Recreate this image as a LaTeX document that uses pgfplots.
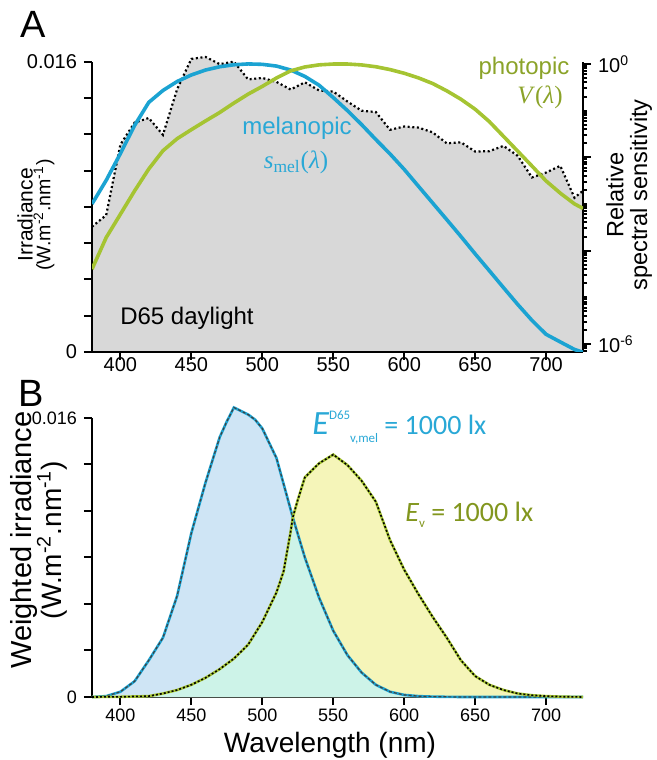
\documentclass[border=0pt]{standalone}
\usepackage{fontspec}
\setmainfont{Liberation Sans}
\newfontfamily\seriffont{Liberation Serif}
\newfontfamily\carlito{Carlito}
\usepackage{pgfplots}
\pgfplotsset{compat=1.18}
\usepackage{pgfplotstable}

\definecolor{dgrey}{RGB}{216,216,216}
\definecolor{melblue}{RGB}{27,163,210}
\definecolor{photgreen}{RGB}{165,196,50}
\definecolor{meltext}{RGB}{41,168,214}
\definecolor{phottext}{RGB}{139,163,41}
\definecolor{evtext}{RGB}{130,150,30}
\definecolor{bluefill}{RGB}{207,229,245}
\definecolor{yelfill}{RGB}{245,245,185}
\definecolor{mintfill}{RGB}{205,243,232}

% D65 spectral irradiance (panel A, left axis)
\pgfplotstableread{
nm irr
380 0.00691
390 0.00755
400 0.01144
410 0.01265
420 0.01291
430 0.01198
440 0.01450
450 0.01617
460 0.01628
470 0.01588
480 0.01602
490 0.01504
500 0.01512
510 0.01490
520 0.01448
530 0.01488
540 0.01443
550 0.01437
560 0.01382
570 0.01331
580 0.01324
590 0.01226
600 0.01244
610 0.01238
620 0.01212
630 0.01151
640 0.01157
650 0.01106
660 0.01108
670 0.01137
680 0.01082
690 0.00963
700 0.00990
710 0.01027
720 0.00851
726 0.00890
}\dsf

% relative sensitivities (panel A, right log axis)
\pgfplotstableread{
nm mel V
380 1.0e-3 4e-5
390 3.2e-3 1.9e-4
400 1.2e-2 6e-4
410 4.8e-2 1.9e-3
420 0.15 5.6e-3
430 0.27 0.0138
440 0.42 0.025
450 0.58 0.039
460 0.74 0.06
470 0.87 0.091
480 0.96 0.145
490 1.0 0.225
500 0.98 0.33
510 0.9 0.5
520 0.74 0.71
530 0.54 0.86
540 0.35 0.955
550 0.19 0.995
560 0.1 0.995
570 0.05 0.952
580 0.024 0.87
590 0.0118 0.757
600 5.5e-3 0.631
610 2.4e-3 0.503
620 1.05e-3 0.381
630 4.6e-4 0.265
640 2.0e-4 0.175
650 8.5e-5 0.107
660 3.7e-5 0.058
670 1.6e-5 0.028
680 7e-6 0.0135
690 3.2e-6 0.0065
700 1.6e-6 0.0031
710 1.1e-6 0.0017
720 7.6e-7 0.001
726 6.6e-7 0.0008
}\sens

% weighted irradiance (panel B)
\pgfplotstableread{
nm w
380 0
390 0.00005
400 0.0003
410 0.0009
420 0.0021
430 0.0034
440 0.0058
450 0.0094
460 0.0123
470 0.0149
475 0.0158
480 0.0166
485 0.0164
490 0.0162
495 0.0159
500 0.0154
510 0.0137
521.5 0.0103
530 0.0080
540 0.0057
550 0.0038
560 0.0024
570 0.0014
580 0.0007
590 0.0003
600 0.00012
610 0.00005
620 0.00002
640 0
726 0
}\melw

\pgfplotstableread{
nm w
380 0
400 0.00001
420 0.00005
430 0.0002
440 0.0004
450 0.0007
460 0.0011
470 0.0016
480 0.0022
490 0.0030
500 0.0043
510 0.0060
515 0.0072
520 0.0095
521.5 0.0103
525 0.0113
530 0.0126
540 0.0134
550 0.0139
560 0.0133
570 0.0124
580 0.0112
590 0.0090
600 0.0073
610 0.0059
620 0.0046
630 0.0034
640 0.0021
650 0.0012
660 0.0007
670 0.0004
680 0.0002
690 0.0001
700 0.00005
710 0.00002
726 0
}\photw

% lower envelope of the two weighted spectra (overlap region)
\pgfplotstableread{
nm w
380 0
400 0.00001
420 0.00005
430 0.0002
440 0.0004
450 0.0007
460 0.0011
470 0.0016
480 0.0022
490 0.0030
500 0.0043
510 0.0060
515 0.0072
520 0.0095
521.5 0.0103
530 0.0080
540 0.0057
550 0.0038
560 0.0024
570 0.0014
580 0.0007
590 0.0003
600 0.00012
610 0.00005
620 0.00002
640 0
726 0
}\overlap

\pgfplotsset{
  panel/.style={
    anchor=south west, scale only axis, width=245.5pt,
    xmin=380, xmax=726,
    axis line style={line width=1.3pt, -},
    tick style={line width=1pt, black},
    major tick length=4pt, minor tick length=2pt,
    tick align=outside,
    scaled y ticks=false,
    xtick={400,450,500,550,600,650,700},
    xticklabels={400,450,500,550,600,650,700},
  }
}

\begin{document}
\begin{tikzpicture}[x=1pt,y=1pt]
\useasboundingbox (0,0) rectangle (328.5,380);

% ---------- panel A, irradiance ----------
\begin{axis}[panel, at={(46pt,204pt)}, height=145pt,
    ymin=0, ymax=0.016, clip=false,
    axis x line*=bottom, axis y line*=left, axis on top,
    ytick={0,0.002,0.004,0.006,0.008,0.010,0.012,0.014,0.016},
    yticklabels={0,,,,,,,,0.016},
    ticklabel style={font=\fontsize{10}{12}\selectfont},
    xticklabel style={yshift=5pt},
  ]
  \addplot[draw=none, fill=dgrey] table[x=nm, y=irr] {\dsf} \closedcycle;
  \addplot[black, line width=1.1pt, dash pattern=on 1pt off 1.3pt] table[x=nm, y=irr] {\dsf};
\end{axis}

% ---------- panel A, relative sensitivity ----------
\begin{axis}[panel, at={(46pt,204pt)}, height=145pt,
    ymode=log, ymin=6.7e-7, ymax=1.1,
    axis x line=none, axis y line*=right,
    ytick={1e-6,1e-4,1e-2,1},
    yticklabels={10\textsuperscript{-6},,,10\textsuperscript{0}},
    minor ytick={7e-7,8e-7,9e-7,2e-6,3e-6,4e-6,5e-6,6e-6,7e-6,8e-6,9e-6,1e-5,
      2e-5,3e-5,4e-5,5e-5,6e-5,7e-5,8e-5,9e-5,2e-4,3e-4,4e-4,5e-4,6e-4,7e-4,8e-4,9e-4,1e-3,
      2e-3,3e-3,4e-3,5e-3,6e-3,7e-3,8e-3,9e-3,2e-2,3e-2,4e-2,5e-2,6e-2,7e-2,8e-2,9e-2,1e-1,
      2e-1,3e-1,4e-1,5e-1,6e-1,7e-1,8e-1,9e-1},
    ticklabel style={font=\fontsize{10}{12}\selectfont},
  ]
  \addplot[melblue, line width=1.8pt] table[x=nm, y=mel] {\sens};
  \addplot[photgreen, line width=1.8pt] table[x=nm, y=V] {\sens};
\end{axis}

% ---------- panel B ----------
\begin{axis}[panel, at={(46pt,31.5pt)}, height=139.5pt,
    ymin=0, ymax=0.016, clip=false,
    axis x line*=bottom, axis y line*=left,
    ytick={0,0.0026667,0.0053333,0.008,0.0106667,0.0133333,0.016},
    yticklabels={0,,,,,,0.016},
    ticklabel style={font=\fontsize{9}{11}\selectfont},
    xticklabel style={yshift=1.5pt},
  ]
  \addplot[draw=none, fill=bluefill] table[x=nm, y=w] {\melw} \closedcycle;
  \addplot[draw=none, fill=yelfill] table[x=nm, y=w] {\photw} \closedcycle;
  \addplot[draw=none, fill=mintfill] table[x=nm, y=w] {\overlap} \closedcycle;
  \addplot[melblue, line width=1.3pt] table[x=nm, y=w] {\melw};
  \addplot[black!75, line width=0.6pt, dash pattern=on 1.5pt off 1pt] table[x=nm, y=w] {\melw};
  \addplot[photgreen, line width=1.3pt] table[x=nm, y=w] {\photw};
  \addplot[black, line width=0.8pt, dash pattern=on 1pt off 1pt] table[x=nm, y=w] {\photw};
\end{axis}

% ---------- text ----------
\node[font=\fontsize{19}{19}\selectfont] at (16.5,368) {A};
\node[font=\fontsize{19}{19}\selectfont] at (15.5,183.5) {B};

\node[rotate=90, font=\fontsize{10.5}{10}\selectfont] at (12.5,272.5) {Irradiance};
\node[rotate=90, font=\fontsize{9.8}{10}\selectfont] at (22,272.5)
  {(W.m\textsuperscript{-2}.nm\textsuperscript{-1})};
\node[rotate=90, font=\fontsize{11.8}{13}\selectfont] at (307.5,282.5) {Relative};
\node[rotate=90, font=\fontsize{11.8}{13}\selectfont] at (320.5,282.5) {spectral sensitivity};
\node[rotate=90, font=\fontsize{14.5}{14}\selectfont] at (12,110) {Weighted irradiance};
\node[rotate=90, font=\fontsize{14}{14}\selectfont] at (26,110)
  {(W.m\textsuperscript{-2}.nm\textsuperscript{-1})};
\node[font=\fontsize{14}{14}\selectfont] at (165,7.5) {Wavelength (nm)};

\node[font=\fontsize{12}{12}\selectfont] at (93.5,221) {D65 daylight};
\node[font=\fontsize{12}{12}\selectfont, text=meltext] at (148.5,316) {melanopic};
\node[font=\fontsize{12.5}{12.5}\seriffont, text=meltext] at (148,299)
  {\textit{s}\textsubscript{mel}(\textit{λ})};
\node[font=\fontsize{12}{12}\selectfont, text=phottext] at (262,346) {photopic};
\node[font=\fontsize{12.5}{12.5}\seriffont, text=phottext] at (270,331.5)
  {\textit{V}(\textit{λ})};

\node[anchor=base west, inner sep=0pt, text=meltext, font=\carlito] at (156,162.5)
  {{\fontsize{17}{17}\selectfont\itshape E}\raisebox{7.5pt}{\fontsize{6.5}{6.5}\selectfont D65}\raisebox{-4pt}{\fontsize{6.5}{6.5}\selectfont v,mel}\fontsize{14}{14}\selectfont{} = 1000 lx};
\node[anchor=base west, inner sep=0pt, text=evtext, font=\carlito] at (202.5,119)
  {{\fontsize{14}{14}\selectfont\itshape E}\raisebox{-3pt}{\fontsize{6.5}{6.5}\selectfont v}\fontsize{14}{14}\selectfont{} = 1000 lx};
\end{tikzpicture}
\end{document}
